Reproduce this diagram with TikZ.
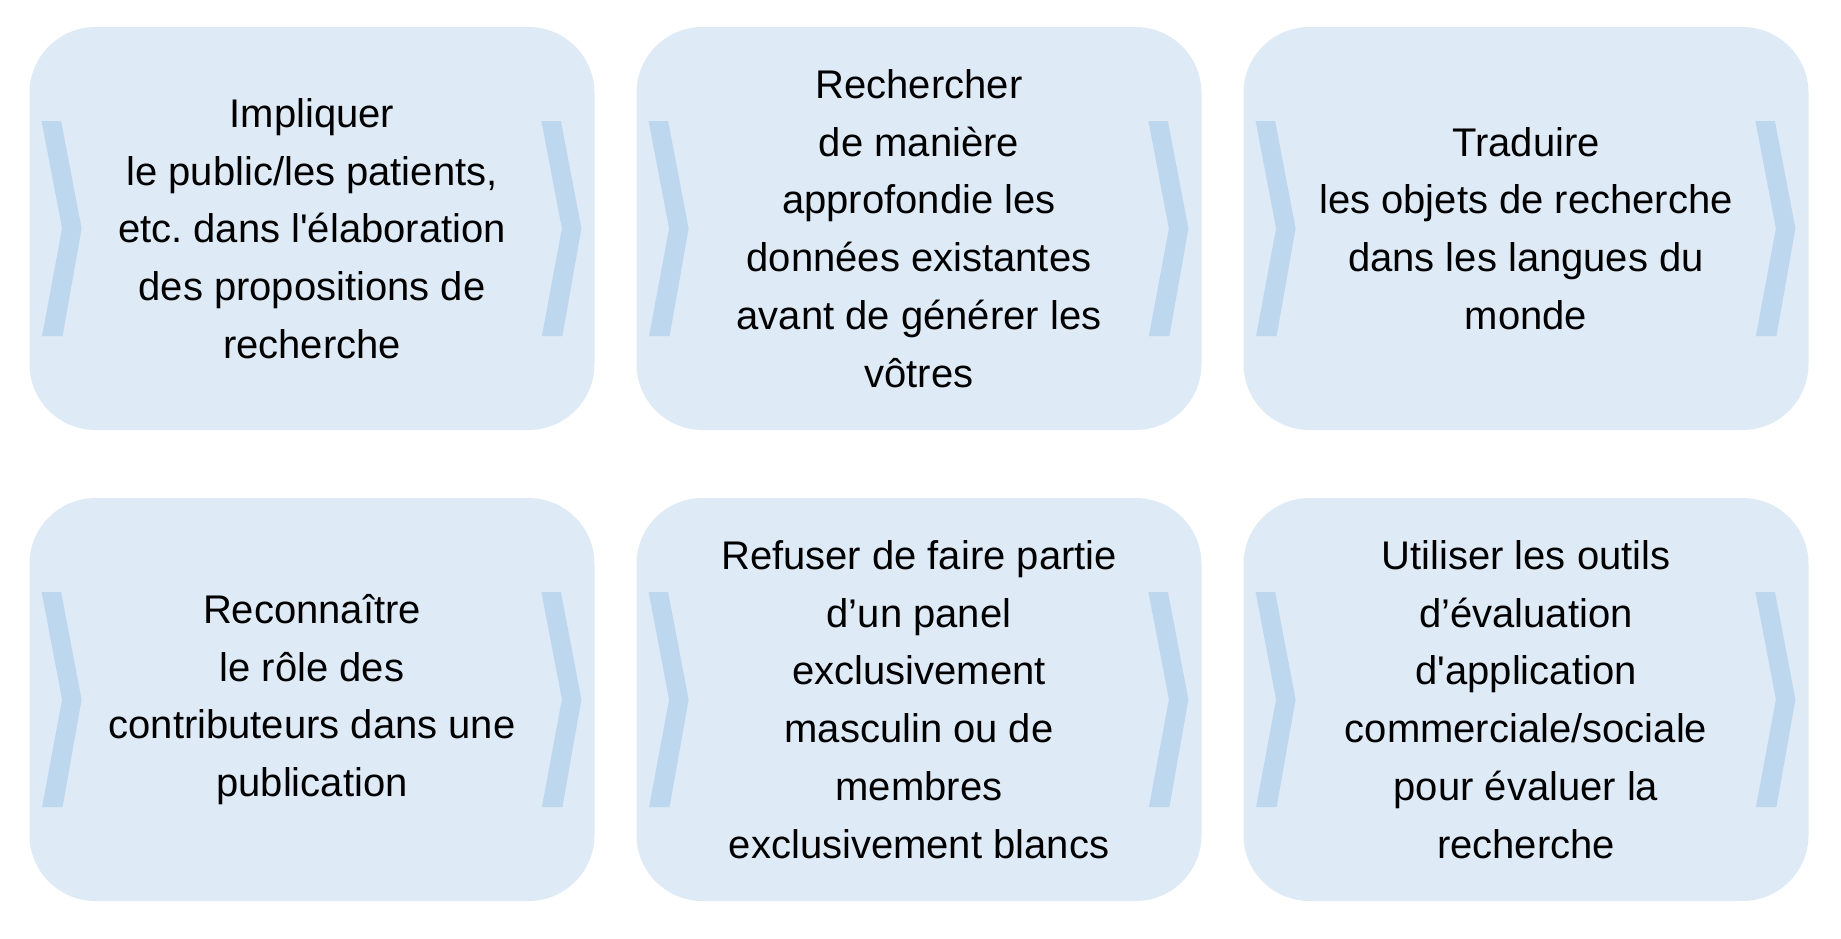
\documentclass[tikz,border=0pt]{standalone}
\usepackage{fontspec}
\newfontfamily\lab{Liberation Sans}
\frenchspacing
\definecolor{boxfill}{HTML}{DEEAF6}
\definecolor{chevfill}{HTML}{BDD7EE}
\tikzset{
  card/.style={fill=boxfill, draw=none, rounded corners=33pt,
    minimum width=282.5pt, minimum height=201.5pt, inner sep=0pt,
    align=center, font=\lab\fontsize{20}{28.85}\selectfont, text=black},
  chev/.pic={\fill[chevfill] (0,-107.5) -- (19.5,-107.5) -- (40,0) -- (21,107.5) -- (0.5,107.5) -- (20.5,0) -- cycle;}
}
\begin{document}
\begin{tikzpicture}[x=0.5pt,y=-0.5pt]
\useasboundingbox (0,0) rectangle (1841,938);
% boxes (fill only, text drawn on top after chevrons)
\node[card] (b1) at (312,228.5) {};
\node[card] (b2) at (919,228.5) {};
\node[card] (b3) at (1526,228.5) {};
\node[card] (b4) at (312,699.5) {};
\node[card] (b5) at (919,699.5) {};
\node[card] (b6) at (1526,699.5) {};
\foreach \b in {b1,b2,b3,b4,b5,b6}{
  \pic at ([xshift=6.25pt]\b.west) {chev};
  \pic at ([xshift=-26.75pt]\b.east) {chev};
}
\tikzset{lbl/.style={align=center, font=\lab\fontsize{20}{28.85}\selectfont, text=black, inner sep=0pt}}
\node[lbl] (t1) at (b1.center) {Impliquer\\le public/les patients,\\etc. dans l'élaboration\\des propositions de\\recherche};
\node[lbl] (t2) at (b2.center) {Rechercher\\de manière\\approfondie les\\données existantes\\avant de générer les\\vôtres};
\node[lbl] (t3) at (b3.center) {Traduire\\les objets de recherche\\dans les langues du\\monde};
\node[lbl] (t4) at (b4.center) {Reconnaître\\le rôle des\\contributeurs dans une\\publication};
\node[lbl] (t5) at (b5.center) {Refuser de faire partie\\d’un panel\\exclusivement\\masculin ou de\\membres\\exclusivement blancs};
\node[lbl] (t6) at (b6.center) {Utiliser les outils\\d’évaluation\\d'application\\commerciale/sociale\\pour évaluer la\\recherche};
\end{tikzpicture}
\end{document}
